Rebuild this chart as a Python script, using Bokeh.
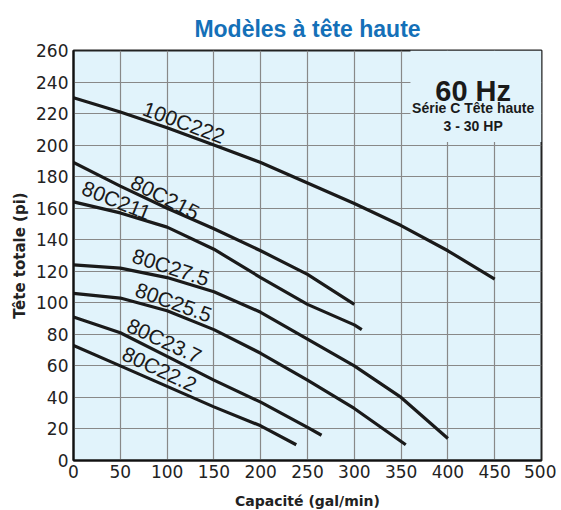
from bokeh.plotting import figure
from bokeh.models import Range1d, FixedTicker
from bokeh.core.properties import value
from bokeh.embed import file_html
from bokeh.resources import INLINE

# ---- data ----
q_100C222 = [0, 50, 100, 150, 200, 250, 300, 350, 400, 450]
h_100C222 = [230, 221, 211, 200, 189, 176, 163, 149, 133, 115]

q_80C215 = [0, 50, 100, 150, 200, 250, 300]
h_80C215 = [189, 174, 160, 147, 133, 118, 99]

q_80C211 = [0, 50, 100, 150, 200, 250, 300, 308]
h_80C211 = [164, 157, 148, 134, 116, 99, 86, 83]

q_80C27_5 = [0, 50, 100, 150, 200, 250, 300, 350, 400]
h_80C27_5 = [124, 122, 116, 107, 94, 77, 60, 40, 14]

q_80C25_5 = [0, 50, 100, 150, 200, 250, 300, 355]
h_80C25_5 = [106, 103, 95, 83, 68, 51, 33, 10]

q_80C23_7 = [0, 50, 100, 150, 200, 250, 265]
h_80C23_7 = [91, 81, 66, 51, 37, 21, 16]

q_80C22_2 = [0, 50, 100, 150, 200, 238]
h_80C22_2 = [73, 60, 47, 34, 22, 10]

series = [
    ("100C222", q_100C222, h_100C222),
    ("80C215", q_80C215, h_80C215),
    ("80C211", q_80C211, h_80C211),
    ("80C27.5", q_80C27_5, h_80C27_5),
    ("80C25.5", q_80C25_5, h_80C25_5),
    ("80C23.7", q_80C23_7, h_80C23_7),
    ("80C22.2", q_80C22_2, h_80C22_2),
]

label_names = ["100C222", "80C215", "80C211", "80C27.5", "80C25.5", "80C23.7", "80C22.2"]
label_x = [118, 98, 46, 104, 107, 97, 92]
label_y = [214.5, 167, 165, 122.6, 100.4, 76, 58]
label_angle = [-20, -27, -22, -18, -20, -25, -25]

x_ticks = [0, 50, 100, 150, 200, 250, 300, 350, 400, 450, 500]
y_ticks = [0, 20, 40, 60, 80, 100, 120, 140, 160, 180, 200, 220, 240, 260]

title_text = "Modèles à tête haute"
x_label = "Capacité (gal/min)"
y_label = "Tête totale (pi)"
box_lines = ["60 Hz", "Série C Tête haute", "3 - 30 HP"]

FONT = "Liberation Sans"
WIDE = "DejaVu Sans"
BG = "#e1f3fb"

p = figure(frame_width=468, frame_height=410, output_backend="svg", toolbar_location=None,
           x_range=Range1d(0, 500), y_range=Range1d(0, 260),
           min_border_left=73, min_border_right=15, min_border_top=50, min_border_bottom=45)

p.title.text = title_text
p.title.align = "center"
p.title.vertical_align = "top"
p.title.text_font = FONT
p.title.text_font_size = "23px"
p.title.text_font_style = "bold"
p.title.text_color = "#1470b8"
p.title.standoff = 14

p.background_fill_color = BG
p.border_fill_color = "white"
p.outline_line_color = "#222222"
p.outline_line_width = 2

p.xaxis.ticker = FixedTicker(ticks=x_ticks)
p.yaxis.ticker = FixedTicker(ticks=y_ticks)
for ax in (p.xaxis, p.yaxis):
    ax.axis_line_color = "#111111"
    ax.axis_line_width = 2
    ax.major_tick_line_color = None
    ax.minor_tick_line_color = None
    ax.major_tick_out = 0
    ax.major_tick_in = 0
    ax.major_label_text_font = WIDE
    ax.major_label_text_font_size = "17px"
    ax.major_label_text_color = "#222222"
    ax.axis_label_text_font = WIDE
    ax.axis_label_text_font_style = "bold"
    ax.axis_label_text_color = "#222222"
p.xaxis.axis_label = x_label
p.yaxis.axis_label = y_label
p.xaxis.axis_label_text_font_size = "14px"
p.yaxis.axis_label_text_font_size = "15px"
p.xaxis.major_label_standoff = 4
p.yaxis.major_label_standoff = 5
p.xaxis.axis_label_standoff = 12
p.yaxis.axis_label_standoff = 4
p.xaxis.axis_label_text_line_height = 1.0

p.xgrid.grid_line_color = "#888888"
p.ygrid.grid_line_color = "#888888"
p.xgrid.grid_line_width = 1.2
p.ygrid.grid_line_width = 1.2
p.grid.level = "underlay"

# box hiding grid behind the frequency note
p.quad(left=[360], right=[500], bottom=[202], top=[260], fill_color=BG, line_color=None)

for name, q, h in series:
    p.line(q, h, line_color="#1a1a1a", line_width=3.2)

p.text(x=label_x, y=label_y, text=label_names, angle=label_angle, angle_units="deg",
       text_font=value(FONT), text_font_size="21px", text_color="#1a1a1a",
       text_align="center", text_baseline="middle")

p.text(x=[427], y=[234.5], text=[box_lines[0]], text_font=value(FONT), text_font_size="29px",
       text_font_style="bold", text_color="#1a1a1a", text_align="center", text_baseline="alphabetic")
p.text(x=[427], y=[223.5], text=[box_lines[1]], text_font=value(FONT), text_font_size="14px",
       text_font_style="bold", text_color="#1a1a1a", text_align="center", text_baseline="alphabetic")
p.text(x=[427], y=[212], text=[box_lines[2]], text_font=value(FONT), text_font_size="14px",
       text_font_style="bold", text_color="#1a1a1a", text_align="center", text_baseline="alphabetic")

open("out.html", "w").write(file_html(p, INLINE))
